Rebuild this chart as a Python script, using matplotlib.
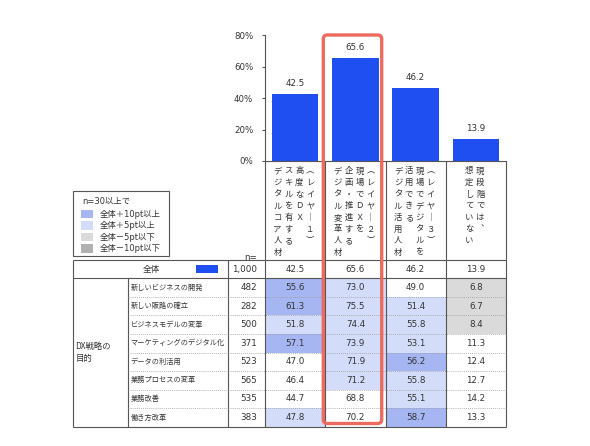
import matplotlib
matplotlib.use("Agg")
import matplotlib.pyplot as plt
from matplotlib.patches import Rectangle, FancyBboxPatch

plt.rcParams['font.family'] = ['DejaVu Sans', 'Noto Sans CJK JP']
JP = ['Noto Sans CJK JP', 'DejaVu Sans']

# --- data ---
col_labels = [
    ["（レイヤー1）", "高度なDX", "スキルを有する", "デジタルコア人材"],
    ["（レイヤー2）", "現場でDXを", "企画・推進する", "デジタル変革人材"],
    ["（レイヤー3）", "現場でデジタルを", "活用できる", "デジタル活用人材"],
    ["現段階では、", "想定していない"],
]
overall_pct = [42.5, 65.6, 46.2, 13.9]
overall_n = "1,000"
group_label = "DX戦略の\n目的"
purposes = ["新しいビジネスの開発", "新しい販路の確立", "ビジネスモデルの変革",
            "マーケティングのデジタル化", "データの利活用", "業務プロセスの変革",
            "業務改善", "働き方改革"]
purpose_n = [482, 282, 500, 371, 523, 565, 535, 383]
layer1_pct = [55.6, 61.3, 51.8, 57.1, 47.0, 46.4, 44.7, 47.8]
layer2_pct = [73.0, 75.5, 74.4, 73.9, 71.9, 71.2, 68.8, 70.2]
layer3_pct = [49.0, 51.4, 55.8, 53.1, 56.2, 55.8, 55.1, 58.7]
none_pct = [6.8, 6.7, 8.4, 11.3, 12.4, 12.7, 14.2, 13.3]
legend_title = "n=30以上で"
legend_labels = ["全体＋10pt以上", "全体＋5pt以上", "全体－5pt以下", "全体－10pt以下"]
y_ticks = [0, 20, 40, 60, 80]

# --- styles ---
BAR = '#1f4ff0'
DARK_BLUE = '#a6b6f3'
LIGHT_BLUE = '#d3ddfa'
LIGHT_GRAY = '#dadada'
DARK_GRAY = '#b0b0b0'
LINE = '#555555'
TXT = '#333333'
RED = '#ee6a5e'
swatch_colors = [DARK_BLUE, LIGHT_BLUE, LIGHT_GRAY, DARK_GRAY]
NUM_FS = 6.3


def cell_color(v, base):
    d = round(v - base, 1)
    if d >= 10:
        return DARK_BLUE
    if d >= 5:
        return LIGHT_BLUE
    if d <= -10:
        return DARK_GRAY
    if d <= -5:
        return LIGHT_GRAY
    return None


VERT = {"（": "︵", "）": "︶", "ー": "｜", "、": "︑"}


def vertical_chars(s):
    out = []
    for ch in s:
        if ch in VERT:
            out.append(VERT[ch])
        elif ch.isascii() and ch.isalnum():
            out.append(chr(ord(ch) + 0xFEE0))
        else:
            out.append(ch)
    return out


W, H = 590, 446
fig = plt.figure(figsize=(W / 100, H / 100), dpi=100)

# layout in pixels
col_w = 60.25
col_x = [265 + col_w * i for i in range(5)]
y_zero, y_top = 161, 35
head_bottom = 260
total_bottom = 278.3
row_h = 18.55
table_left, lab_x, n_x = 73.3, 128.3, 227.7
table_bottom = total_bottom + row_h * len(purposes)

# --- bar chart ---
ax = fig.add_axes([col_x[0] / W, 1 - y_zero / H, (col_x[-1] - col_x[0]) / W, (y_zero - y_top) / H])
xs = [i + 0.5 for i in range(len(overall_pct))]
ax.bar(xs, overall_pct, width=0.77, color=BAR, zorder=2)
for x, v in zip(xs, overall_pct):
    ax.annotate(f"{v:.1f}", (x, v), xytext=(0, 7.5), textcoords='offset points',
                ha='center', va='center', fontsize=6.3, color=TXT)
ax.set_xlim(0, len(overall_pct))
ax.set_ylim(0, 80)
ax.set_yticks(y_ticks)
ax.set_yticklabels([f"{t}%" for t in y_ticks])
ax.set_xticks([])
ax.tick_params(axis='y', length=2.5, width=0.8, color=LINE, labelsize=6.2, labelcolor=TXT, pad=6)
for s in ['top', 'right']:
    ax.spines[s].set_visible(False)
for s in ['left', 'bottom']:
    ax.spines[s].set_color(LINE)
    ax.spines[s].set_linewidth(0.8)
ax.patch.set_alpha(0)

# --- overlay in pixel coordinates for the table ---
ov = fig.add_axes([0, 0, 1, 1], zorder=5)
ov.set_xlim(0, W)
ov.set_ylim(H, 0)
ov.axis('off')

# vertical header labels
for j, lines in enumerate(col_labels):
    cx = col_x[j] + col_w / 2 - 1.2
    nl = len(lines)
    for k, line in enumerate(lines):
        x = cx + (nl - 1) / 2 * 10.9 - k * 10.9
        for m, ch in enumerate(vertical_chars(line)):
            ov.text(x, 171 + m * 11.6, ch, ha='center', va='center',
                    fontsize=6.0, color=TXT, family=JP)
ov.text(257, 258, "n=", ha='right', va='center', fontsize=NUM_FS, color=TXT)

# cell fills
data_cols = [layer1_pct, layer2_pct, layer3_pct, none_pct]
for j, col in enumerate(data_cols):
    for i, v in enumerate(col):
        c = cell_color(v, overall_pct[j])
        if c:
            ov.add_patch(Rectangle((col_x[j], total_bottom + i * row_h), col_w, row_h,
                                   facecolor=c, edgecolor='none', zorder=1))

# table lines
lw = 0.8
ov.vlines([table_left, n_x], head_bottom, table_bottom, color=LINE, lw=lw, zorder=2)
ov.vlines([lab_x], total_bottom, table_bottom, color=LINE, lw=lw, zorder=2)
ov.vlines(col_x, y_zero, table_bottom, color=LINE, lw=lw, zorder=2)
ov.hlines([head_bottom, total_bottom, table_bottom], table_left, col_x[-1], color=LINE, lw=lw, zorder=2)
for i in range(1, len(purposes)):
    ov.plot([lab_x, col_x[-1]], [total_bottom + i * row_h] * 2, color='#9a9a9a',
            lw=0.6, ls=(0, (1, 1.5)), zorder=2)

# overall row
ty = (head_bottom + total_bottom) / 2
ov.text((table_left + n_x) / 2 + 1, ty, "全体", ha='center', va='center', fontsize=6.2, color=TXT, family=JP)
ov.add_patch(Rectangle((195.7, ty - 4.2), 22.6, 8.4, facecolor=BAR, edgecolor='none', zorder=3))
ov.text(257, ty, overall_n, ha='right', va='center', fontsize=NUM_FS, color=TXT)
for j, v in enumerate(overall_pct):
    ov.text(col_x[j] + col_w / 2, ty, f"{v:.1f}", ha='center', va='center', fontsize=NUM_FS, color=TXT)

# purpose rows
ov.text(75.5, (total_bottom + table_bottom) / 2, group_label, ha='left', va='center',
        fontsize=6, color=TXT, family=JP, linespacing=1.4)
for i, name in enumerate(purposes):
    y = total_bottom + (i + 0.5) * row_h
    ov.text(130.7, y, name, ha='left', va='center', fontsize=5.2, color=TXT, family=JP)
    ov.text(257, y, str(purpose_n[i]), ha='right', va='center', fontsize=NUM_FS, color=TXT)
    for j, col in enumerate(data_cols):
        ov.text(col_x[j] + col_w / 2, y, f"{col[i]:.1f}", ha='center', va='center',
                fontsize=NUM_FS, color=TXT, zorder=3)

# legend
ov.add_patch(Rectangle((table_left, 191), 96, 64.7, facecolor='white', edgecolor=LINE, lw=lw, zorder=2))
ov.text(82.7, 201, legend_title, ha='left', va='center', fontsize=6, color=TXT)
for k, (lab, c) in enumerate(zip(legend_labels, swatch_colors)):
    y = 214 + k * 11.5
    ov.add_patch(Rectangle((80.7, y - 4.3), 12.6, 8.6, facecolor=c, edgecolor='none', zorder=3))
    ov.text(99.3, y, lab, ha='left', va='center', fontsize=6, color=TXT)

# red highlight around the second column
ov.add_patch(FancyBboxPatch((323.3, 35), 58.4, 388.5, boxstyle="round,pad=0,rounding_size=4",
                            facecolor='none', edgecolor=RED, lw=2.4, zorder=6))

fig.savefig("out.png", dpi=100)
